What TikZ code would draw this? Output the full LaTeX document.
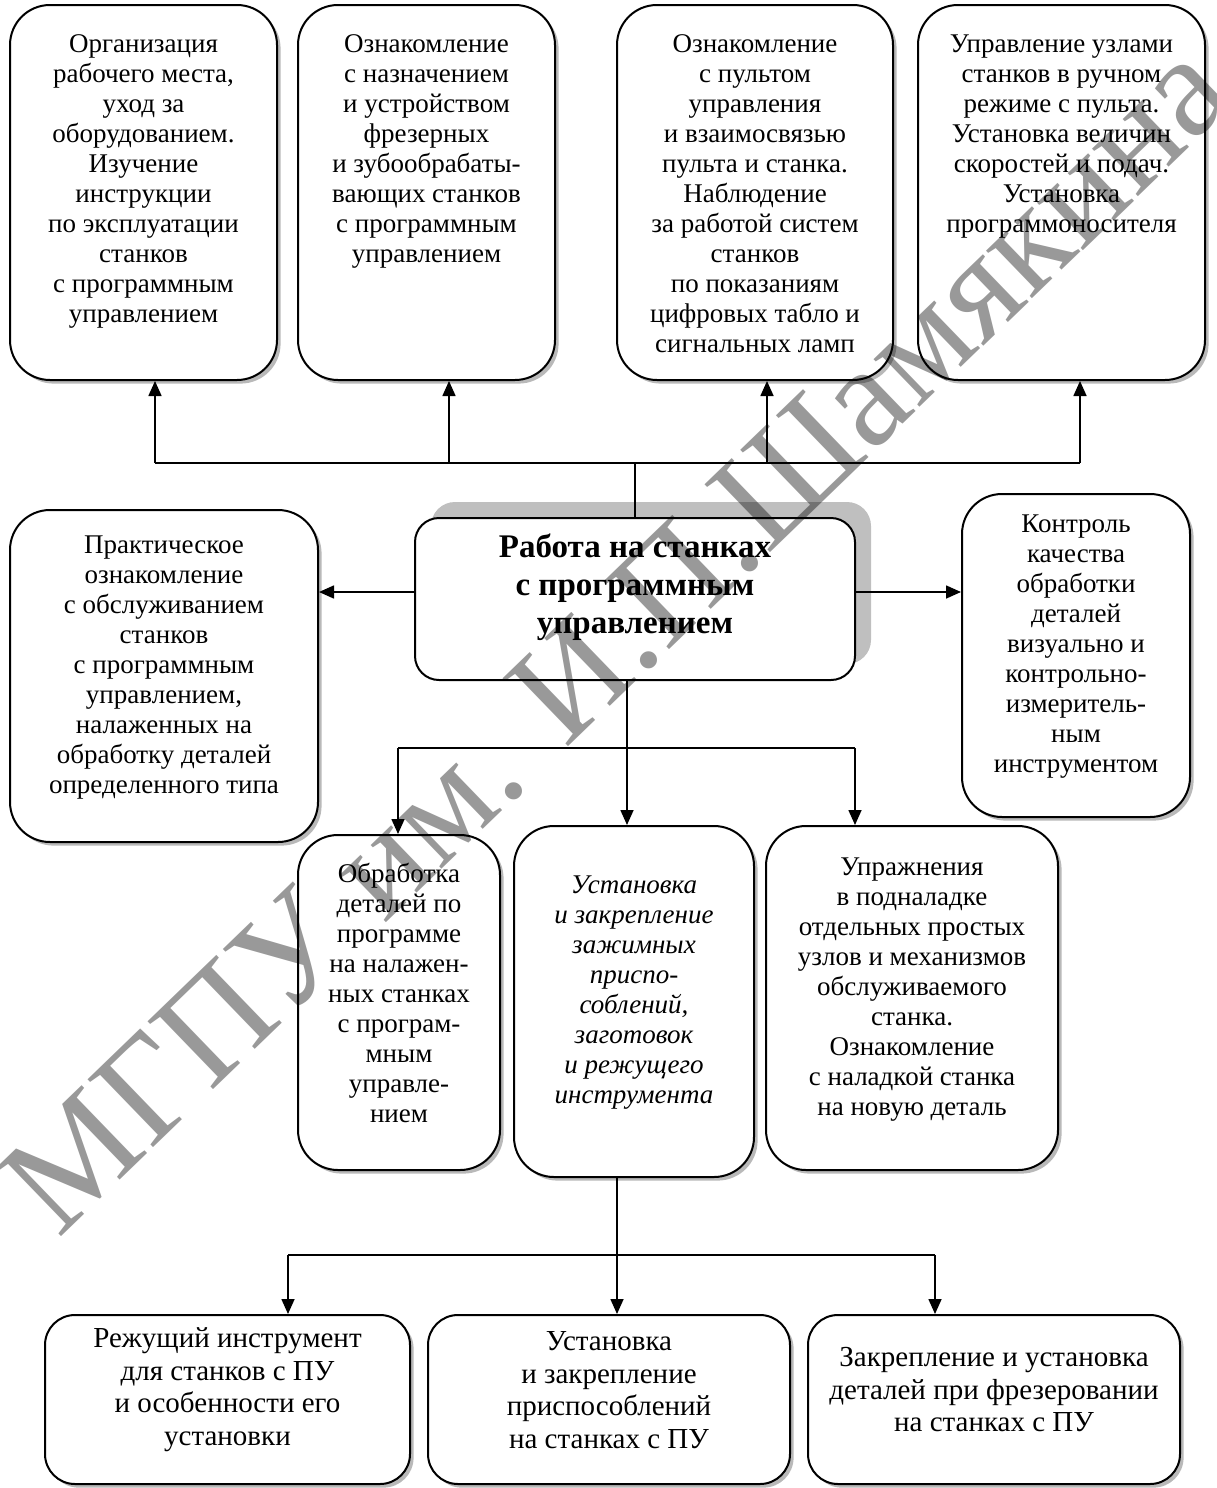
\documentclass[tikz,border=0pt]{standalone}
\usepackage{fontspec}
\setmainfont{Liberation Serif}
\usetikzlibrary{arrows.meta,positioning,fit,shadows}

\begin{document}
\begin{tikzpicture}[x=0.5pt, y=-0.5pt,
  box/.style={draw, line width=1pt, rounded corners=20pt, fill=white, inner sep=0pt,
    align=center, font=\fontsize{13.5}{15}\selectfont,
    drop shadow={shadow xshift=1.8pt, shadow yshift=-1.8pt, fill=gray!55, opacity=1}},
  lbl/.style={align=center, inner sep=0pt, font=\fontsize{13.5}{15}\selectfont},
  lowbox/.style={box, rounded corners=15pt, font=\fontsize{14.5}{16.3}\selectfont},
  mainbox/.style={draw, line width=1pt, rounded corners=12pt, fill=white, inner sep=0pt,
    align=center, font=\fontsize{16.5}{18.8}\selectfont\bfseries,
    general shadow={shadow xshift=8pt, shadow yshift=8pt, fill=gray!50}},
  ln/.style={line width=0.8pt},
  arr/.style={line width=0.8pt, -{Triangle[length=7.5pt,width=6.5pt]}},
  wmark/.style={inner sep=0pt, text=black, text opacity=0.4, font=\fontsize{72}{72}\selectfont}]
\useasboundingbox (0,0) rectangle (1216,1488);
% top row
\node[box, fit={(10,5) (277,380)}] (b1) {};
\node[box, fit={(298,5) (555,380)}] (b2) {};
\node[box, fit={(617,5) (893,380)}] (b3) {};
\node[box, fit={(918,5) (1205,380)}] (b4) {};
\node[lbl, below=15pt of b1.north] (t1) {Организация\\рабочего места,\\уход за\\оборудованием.\\Изучение\\инструкции\\по эксплуатации\\станков\\с программным\\управлением};
\node[lbl, below=15pt of b2.north] (t2) {Ознакомление\\с назначением\\и устройством\\фрезерных\\и зубообрабаты-\\вающих станков\\с программным\\управлением};
\node[lbl, below=15pt of b3.north] (t3) {Ознакомление\\с пультом\\управления\\и взаимосвязью\\пульта и станка.\\Наблюдение\\за работой систем\\станков\\по показаниям\\цифровых табло и\\сигнальных ламп};
\node[lbl, below=15pt of b4.north] (t4) {Управление узлами\\станков в ручном\\режиме с пульта.\\Установка величин\\скоростей и подач.\\Установка\\программоносителя};
% centre and sides
\node[mainbox, fit={(415,518) (855,680)}] (c) {Работа на станках\\с программным\\управлением};
\node[box, fit={(10,510) (318,842)}] (lm) {Практическое\\ознакомление\\с обслуживанием\\станков\\с программным\\управлением,\\налаженных на\\обработку деталей\\определенного типа};
\node[box, fit={(962,494) (1190,817)}] (rm) {Контроль\\качества\\обработки\\деталей\\визуально и\\контрольно-\\измеритель-\\ным\\инструментом};
% middle row
\node[box, fit={(298,835) (500,1170)}] (m1) {Обработка\\деталей по\\программе\\на налажен-\\ных станках\\с програм-\\мным\\управле-\\нием};
\node[box, fit={(514,826) (754,1177)}, font=\fontsize{13.5}{15}\selectfont\itshape] (m2) {Установка\\и закрепление\\зажимных\\приспо-\\соблений,\\заготовок\\и режущего\\инструмента};
\node[box, fit={(766,826) (1058,1170)}] (m3) {Упражнения\\в подналадке\\отдельных простых\\узлов и механизмов\\обслуживаемого\\станка.\\Ознакомление\\с наладкой станка\\на новую деталь};
% bottom row
\node[lowbox, fit={(45,1315) (410,1484)}] (d1) {Режущий инструмент\\для станков с ПУ\\и особенности его\\установки};
\node[lowbox, fit={(428,1315) (790,1484)}] (d2) {Установка\\и закрепление\\приспособлений\\на станках с ПУ};
\node[lowbox, fit={(808,1315) (1180,1484)}] (d3) {Закрепление и установка\\деталей при фрезеровании\\на станках с ПУ};
% connectors up
\coordinate (u1) at (155,463);
\coordinate (u2) at (449,463);
\coordinate (u3) at (767,463);
\coordinate (u4) at (1080,463);
\draw[ln] (c.north) -- (c.north |- u1);
\draw[ln] (u1) -- (u4);
\foreach \i in {1,...,4}
  \draw[arr] (u\i) -- (u\i |- b\i.south);
% connectors to the sides
\draw[arr] ([yshift=3.5pt]c.west) -- ([yshift=3.5pt]c.west -| lm.east);
\draw[arr] ([yshift=3.5pt]c.east) -- ([yshift=3.5pt]c.east -| rm.west);
% connectors down
\coordinate (v1) at (398,748);
\coordinate (v2) at (627,748);
\coordinate (v3) at (855,748);
\draw[ln] (v1) -- (v3);
\draw[ln] (v2 |- c.south) -- (v2);
\draw[arr] (v2) -- (v2 |- m2.north);
\draw[arr] (v1) -- (v1 |- m1.north);
\draw[arr] (v3) -- (v3 |- m3.north);
% connectors to the bottom row
\coordinate (w1) at (288,1255);
\coordinate (w2) at (617,1255);
\coordinate (w3) at (935,1255);
\draw[ln] (w1) -- (w3);
\draw[ln] (w2 |- m2.south) -- (w2);
\foreach \i in {1,2,3}
  \draw[arr] (w\i) -- (w\i |- d\i.north);
% watermark
\node[wmark, rotate=44, anchor=base west] (wm) at (58,1240) {МГПУ им. И.П.Шамякина};
\end{tikzpicture}
\end{document}
